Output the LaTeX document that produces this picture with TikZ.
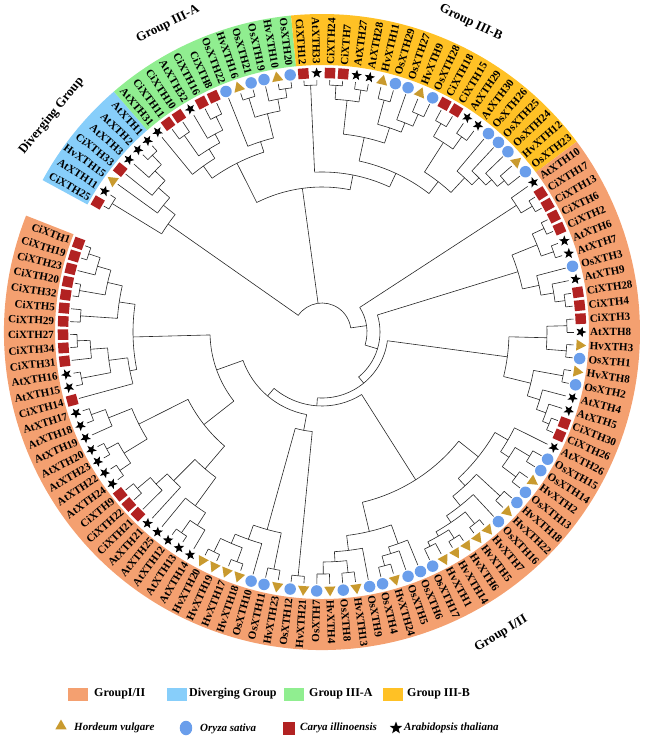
\documentclass[tikz,border=0pt]{standalone}
\usepackage{fontspec}
\setmainfont{Liberation Serif}
\usetikzlibrary{shapes.geometric}
\definecolor{grpI}{HTML}{F4A070}
\definecolor{grpD}{HTML}{87CEFA}
\definecolor{grpA}{HTML}{90EE90}
\definecolor{grpB}{HTML}{FFC125}
\definecolor{trigold}{HTML}{C99A2E}
\definecolor{cblue}{HTML}{6A9EEB}
\definecolor{sqred}{HTML}{B22222}
\tikzset{
 br/.style={line width=0.6pt, draw=black!85},
 lbl/.style={font=\bfseries\fontsize{11}{11}\selectfont, inner sep=0pt},
 grp/.style={font=\bfseries\fontsize{13}{13}\selectfont, inner sep=0pt},
 tri/.style={regular polygon, regular polygon sides=3, fill=trigold, inner sep=0pt, minimum size=13pt},
 cir/.style={circle, fill=cblue, inner sep=0pt, minimum size=11.5pt},
 sqr/.style={rectangle, fill=sqred, inner sep=0pt, minimum size=10.5pt},
 stq/.style={star, star points=5, star point ratio=2.4, fill=black, inner sep=0pt, minimum size=11pt},
 legsq/.style={rectangle, inner sep=0pt, minimum width=20pt, minimum height=13pt},
 legt/.style={font=\bfseries\fontsize{12}{12}\selectfont, inner sep=0pt, anchor=west},
 legi/.style={font=\bfseries\itshape\fontsize{11}{11}\selectfont, inner sep=0pt, anchor=west},
}
\newcount\tleaf
\newcount\tdepth
\newcommand\TReg{%
  \edef\tpr{\csname tpr\the\tdepth\endcsname}%
  \draw[br] (\tang:\tr) -- (\tang:\tpr);
  \expandafter\ifx\csname tfa\the\tdepth\endcsname\relax
    \expandafter\xdef\csname tfa\the\tdepth\endcsname{\tang}%
  \fi
  \expandafter\xdef\csname tla\the\tdepth\endcsname{\tang}%
}
\newcommand\Tsymt{\node[tri,rotate=\tang-90] (sym\tidx) at (\tang:258) {};}
\newcommand\Tsymc{\node[cir] (sym\tidx) at (\tang:259) {};}
\newcommand\Tsyms{\node[sqr,rotate=\tang] (sym\tidx) at (\tang:259) {};}
\newcommand\Tsyma{\node[stq,rotate=\tang-90] (sym\tidx) at (\tang:259) {};}
\newcommand\TLeaf[2]{%
  \pgfmathsetmacro\tang{150-2.94118*\the\tleaf}%
  \edef\tidx{\the\tleaf}%
  \global\advance\tleaf by 1
  \def\tr{252}%
  \TReg
  \csname Tsym#2\endcsname
  \pgfmathtruncatemacro\tside{((\tang>-90)&&(\tang<90))?1:0}%
  \ifnum\tside=1
    \node[lbl,rotate=\tang,anchor=west] (lab\tidx) at (\tang:268) {#1};
  \else
    \node[lbl,rotate=\tang+180,anchor=east] (lab\tidx) at (\tang:268) {#1};
  \fi
}
\newcommand\TNode[2]{%
  \begingroup
  \global\advance\tdepth by 1
  \expandafter\xdef\csname tpr\the\tdepth\endcsname{#1}%
  \expandafter\global\expandafter\let\csname tfa\the\tdepth\endcsname\relax
  #2%
  \edef\tfa{\csname tfa\the\tdepth\endcsname}%
  \edef\tla{\csname tla\the\tdepth\endcsname}%
  \draw[br] (\tfa:#1) arc[start angle=\tfa,end angle=\tla,radius=#1];
  \pgfmathsetmacro\tang{(\tfa+\tla)/2}%
  \def\tr{#1}%
  \global\advance\tdepth by -1
  \TReg
  \endgroup
}
\newcommand\band[3]{\fill[#1] (#2:267) arc[start angle=#2,end angle=#3,radius=267] -- (#3:318) arc[start angle=#3,end angle=#2,radius=318] -- cycle;}
\expandafter\gdef\csname tpr0\endcsname{29}
\let\N\TNode
\let\L\TLeaf
\begin{document}
\begin{tikzpicture}[x=1pt,y=1pt]
\useasboundingbox (-322,-410) rectangle (324,332);
\band{grpD}{151.47}{130.88}
\band{grpA}{130.88}{95.59}
\band{grpB}{95.59}{36.76}
\band{grpI}{36.76}{-201.47}
\N{29}{%
 \N{188}{%
   \N{246}{\L{CiXTH25}{s}\L{AtXTH11}{a}}%
   \N{203}{\L{HvXTH15}{t}\N{218}{\L{CiXTH33}{s}\N{232}{\L{AtXTH3}{a}\N{245}{\L{AtXTH2}{a}\L{AtXTH1}{a}}}}}%
 }%
 \N{145}{%
   \N{189}{%
     \N{204}{\L{AtXTH31}{a}\N{215}{\N{240}{\L{CiXTH11}{s}\L{CiXTH10}{s}}\N{225}{\L{AtXTH32}{a}\N{240}{\L{CiXTH16}{s}\L{CiXTH8}{s}}}}}%
     \N{200}{\L{OsXTH22}{c}\N{225}{\N{245}{\L{HvXTH16}{t}\L{OsXTH21}{c}}\N{237}{\L{OsXTH19}{c}\N{246}{\L{HvXTH10}{t}\L{OsXTH20}{c}}}}}%
   }%
   \N{160}{%
     \N{247}{\L{CiXTH12}{s}\L{AtXTH33}{a}}%
     \N{175}{%
       \N{199}{\N{233}{\N{247}{\L{CiXTH24}{s}\L{CiXTH7}{s}}\N{245}{\L{AtXTH27}{a}\L{AtXTH28}{a}}}\N{215}{\N{240}{\L{HvXTH11}{t}\L{OsXTH29}{c}}\N{225}{\L{OsXTH27}{c}\N{238}{\L{HvXTH9}{t}\L{OsXTH28}{c}}}}}%
       \N{190}{\N{225}{\N{240}{\L{CiXTH18}{s}\L{CiXTH15}{s}}\N{240}{\L{AtXTH29}{a}\L{AtXTH30}{a}}}\N{210}{\L{OsXTH26}{c}\N{220}{\L{OsXTH25}{c}\N{228}{\L{OsXTH24}{c}\N{237}{\L{HvXTH12}{t}\L{OsXTH23}{c}}}}}}%
     }%
   }%
 }%
 \N{45}{%
   \N{232}{\L{AtXTH10}{a}\N{245}{\L{CiXTH17}{s}\L{CiXTH13}{s}}}%
   \N{58}{%
     \N{205}{\N{232}{\N{245}{\L{CiXTH6}{s}\L{CiXTH2}{s}}\N{245}{\L{AtXTH6}{a}\L{AtXTH7}{a}}}\N{222}{\L{OsXTH3}{c}\N{235}{\L{AtXTH9}{a}\N{245}{\L{CiXTH28}{s}\L{CiXTH4}{s}}}}}%
     \N{66}{%
       \N{187}{\N{225}{\N{245}{\L{CiXTH3}{s}\L{AtXTH8}{a}}\N{245}{\L{HvXTH3}{t}\L{OsXTH1}{c}}}\N{215}{\N{245}{\L{HvXTH8}{t}\L{OsXTH2}{c}}\N{228}{\L{AtXTH4}{a}\N{238}{\L{AtXTH5}{a}\N{245}{\L{CiXTH30}{s}\L{CiXTH26}{s}}}}}}%
       \N{74}{%
         \N{175}{%
           \N{200}{%
             \N{215}{\L{AtXTH26}{a}\N{225}{\N{242}{\L{OsXTH15}{c}\L{OsXTH14}{c}}\N{242}{\L{HvXTH2}{t}\L{OsXTH13}{c}}}}%
             \N{210}{\N{242}{\L{HvXTH18}{c}\L{HvXTH22}{t}}\N{222}{\L{OsXTH16}{c}\N{230}{\N{245}{\L{HvXTH7}{t}\L{HvXTH5}{t}}\N{235}{\N{245}{\L{HvXTH6}{t}\L{HvXTH14}{t}}\N{240}{\L{HvXTH1}{t}\L{OsXTH17}{c}}}}}}%
           }%
           \N{205}{%
             \N{225}{\L{OsXTH6}{c}\N{232}{\L{OsXTH5}{c}\N{242}{\L{HvXTH24}{t}\L{OsXTH4}{c}}}}%
             \N{220}{\L{OsXTH9}{c}\N{230}{\N{242}{\L{HvXTH13}{t}\L{OsXTH8}{c}}\N{242}{\L{HvXTH4}{t}\L{OsXTH7}{c}}}}%
           }%
         }%
         \N{84}{%
           \N{100}{%
             \N{245}{\L{HvXTH21}{t}\L{OsXTH12}{c}}%
             \N{205}{\N{242}{\L{HvXTH23}{t}\L{OsXTH11}{c}}\N{220}{\L{OsXTH10}{c}\N{230}{\N{245}{\L{HvXTH18}{t}\L{HvXTH17}{t}}\N{245}{\L{HvXTH19}{t}\L{HvXTH20}{t}}}}}%
           }%
           \N{112}{%
             \N{150}{%
               \N{180}{%
                 \N{215}{\N{230}{\L{AtXTH14}{a}\N{245}{\L{AtXTH13}{a}\L{AtXTH12}{a}}}\L{AtXTH25}{a}}%
                 \N{210}{\L{AtXTH21}{a}\N{225}{\L{CiXTH21}{s}\N{242}{\L{CiXTH22}{s}\L{CiXTH9}{s}}}}%
               }%
               \N{205}{\N{232}{\N{245}{\L{AtXTH24}{a}\L{AtXTH22}{a}}\N{245}{\L{AtXTH23}{a}\L{AtXTH20}{a}}}\N{230}{\L{AtXTH19}{a}\N{245}{\L{AtXTH18}{a}\L{AtXTH17}{a}}}}%
             }%
             \N{189}{%
               \N{196}{\L{CiXTH14}{s}\N{215}{\N{245}{\L{AtXTH15}{a}\L{AtXTH16}{a}}\N{232}{\L{CiXTH31}{s}\N{245}{\L{CiXTH34}{s}\L{CiXTH27}{s}}}}}%
               \N{205}{\N{242}{\L{CiXTH29}{s}\L{CiXTH5}{s}}\N{220}{\N{246}{\L{CiXTH32}{s}\L{CiXTH20}{s}}\N{234}{\L{CiXTH23}{s}\N{246}{\L{CiXTH19}{s}\L{CiXTH1}{s}}}}}%
             }%
           }%
         }%
       }%
     }%
   }%
 }%
}
\node[grp, rotate=51] (gDiv) at (141.4:346) {Diverging Group};
\node[grp, rotate=26.6] (gA) at (116.6:344) {Group III-A};
\node[grp, rotate=-25.7] (gB) at (64.3:343) {Group III-B};
\node[grp, rotate=30.7] (gI) at (-59.3:351) {Group I/II};
% legend row 1
\node[legsq, fill=grpI] (k1) at (-244,-362) {};
\node[legt] (t1) at (-228,-362) {GroupI/II};
\node[legsq, fill=grpD] (k2) at (-145,-362) {};
\node[legt] (t2) at (-133,-362) {Diverging Group};
\node[legsq, fill=grpA] (k3) at (-28,-362) {};
\node[legt] (t3) at (-13,-362) {Group III-A};
\node[legsq, fill=grpB] (k4) at (71,-362) {};
\node[legt] (t4) at (85,-362) {Group III-B};
% legend row 2
\node[tri] (k5) at (-261,-394) {};
\node[legi] (t5) at (-248,-396) {Hordeum vulgare};
\node[cir, minimum width=12.5pt, minimum height=14.5pt, ellipse] (k6) at (-136,-396) {};
\node[legi] (t6) at (-122,-397) {Oryza sativa};
\node[sqr, minimum width=12pt, minimum height=13pt] (k7) at (-33,-396) {};
\node[legi] (t7) at (-22,-396) {Carya illinoensis};
\node[stq, minimum size=13pt] (k8) at (74,-396) {};
\node[legi] (t8) at (82,-396) {Arabidopsis thaliana};
\end{tikzpicture}
\end{document}
